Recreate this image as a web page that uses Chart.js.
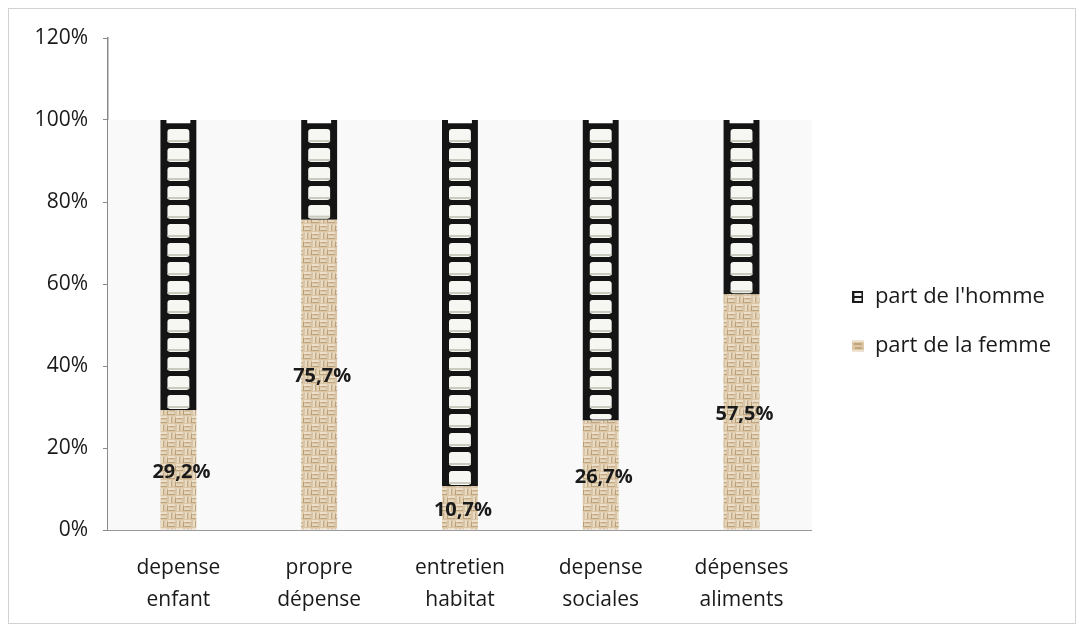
<!DOCTYPE html>
<html>
<head>
<meta charset="utf-8">
<script src="https://cdn.jsdelivr.net/npm/chart.js@4.4.1/dist/chart.umd.min.js"></script>
<style>
  html, body { margin: 0; padding: 0; background: #fff; }
  #wrap { position: relative; width: 1079px; height: 629px; }
  #frame { position: absolute; left: 8px; top: 8px; width: 1066px; height: 614px;
           border: 1px solid #d2d2d2; pointer-events: none; }
  canvas { position: absolute; left: 0; top: 0; }
</style>
</head>
<body>
<div id="wrap">
  <canvas id="chart" width="1079" height="629"></canvas>
  <div id="frame"></div>
</div>
<script>
// ----- data -----
const categories = [
  ["depense", "enfant"],
  ["propre", "dépense"],
  ["entretien", "habitat"],
  ["depense", "sociales"],
  ["dépenses", "aliments"]
];
const femmeShare = [29.2, 75.7, 10.7, 26.7, 57.5];
const hommeShare = [70.8, 24.3, 89.3, 73.3, 42.5];
const yTicks = [0, 20, 40, 60, 80, 100, 120];
const seriesNames = ["part de la femme", "part de l'homme"];

const FONT = "'Open Sans', 'DejaVu Sans', sans-serif";
const fmtPct = v => v.toFixed(1).replace(".", ",") + "%";

// ----- textures -----
function weaveTile() {
  const c = document.createElement("canvas");
  c.width = 16; c.height = 16;
  const g = c.getContext("2d");
  g.fillStyle = "#dac6a6"; g.fillRect(0, 0, 16, 16);
  // soft basket weave: short light/dark strands
  const strands = [
    ["#ebdfca", 0, 0, 7, 2], ["#c6ab84", 1, 2, 6, 1], ["#e6d8bf", 0, 4, 6, 2], ["#bfa37a", 0, 6, 7, 1],
    ["#ebdfca", 8, 8, 7, 2], ["#c6ab84", 9, 10, 6, 1], ["#e6d8bf", 8, 12, 6, 2], ["#bfa37a", 8, 14, 7, 1],
    ["#e8dbc3", 9, 0, 2, 7], ["#c4a982", 11, 1, 1, 6], ["#e3d3b8", 13, 0, 2, 6], ["#b99d74", 15, 2, 1, 5],
    ["#e8dbc3", 1, 8, 2, 7], ["#c4a982", 3, 9, 1, 6], ["#e3d3b8", 5, 8, 2, 6], ["#b99d74", 7, 10, 1, 5]
  ];
  strands.forEach(([col, x, y, w, h]) => { g.fillStyle = col; g.fillRect(x, y, w, h); });
  return c;
}

function hommeIcon() {
  const c = document.createElement("canvas");
  c.width = 11; c.height = 12;
  const g = c.getContext("2d");
  g.fillStyle = "#1a1a1a"; g.fillRect(0, 0, 11, 12);
  g.fillStyle = "#f2f2f2";
  g.fillRect(2, 2, 7, 3);
  g.fillRect(2, 7, 7, 3);
  return c;
}

function femmeIcon() {
  const c = document.createElement("canvas");
  c.width = 12; c.height = 12;
  const g = c.getContext("2d");
  g.fillStyle = "#dcc7a6"; g.fillRect(0, 0, 12, 12);
  g.fillStyle = "#c2a57b"; g.fillRect(2, 3, 8, 2); g.fillRect(3, 7, 7, 2);
  g.fillStyle = "#eee3d0"; g.fillRect(0, 0, 12, 2); g.fillRect(0, 10, 12, 2);
  return c;
}

const ctx = document.getElementById("chart").getContext("2d");
const weave = ctx.createPattern(weaveTile(), "repeat");

// grey plot band 0..100 %, like the original plot area
const plotBand = {
  id: "plotBand",
  beforeDatasetsDraw(chart) {
    const { ctx, chartArea, scales } = chart;
    const top = scales.y.getPixelForValue(100);
    const bottom = scales.y.getPixelForValue(0);
    ctx.save();
    ctx.fillStyle = "#f9f9f9";
    ctx.fillRect(chartArea.left, top, chartArea.right - chartArea.left, bottom - top);
    ctx.restore();
  }
};

// nudge the legend block to where the original has it
const legendNudge = {
  id: "legendNudge",
  afterLayout(chart) {
    const lg = chart.legend;
    lg.left += 13; lg.right += 13;
    lg.top -= 12; lg.bottom -= 12;
  }
};

// ladder look for the "homme" bars, painted over each bar element
const ladder = {
  id: "ladder",
  afterDatasetDraw(chart, args) {
    if (args.index !== 1) return;
    const c = chart.ctx;
    args.meta.data.forEach(el => {
      const { x, y, base, width } = el.getProps(["x", "y", "base", "width"], true);
      const left = x - width / 2;
      c.save();
      c.beginPath(); c.rect(left, y, width, base - y); c.clip();
      // notch on top
      c.fillStyle = "#ffffff";
      c.fillRect(left + 6, y, width - 12, 3);
      c.fillStyle = "#555";
      c.fillRect(left + 6, y + 3, width - 12, 1);
      for (let cy = y + 9; cy < base - 1; cy += 19) {
        const h = Math.min(14, base - 1 - cy);
        c.fillStyle = "#f6f6f2";
        c.beginPath();
        c.roundRect(left + 7, cy, width - 14, h, 3);
        c.fill();
        if (h > 10) {
          c.fillStyle = "#c9cbbf";
          c.fillRect(left + 7, cy + h - 3, width - 14, 2);
        }
      }
      c.restore();
    });
  }
};

// percentage labels in the middle of the "femme" segment
const valueLabels = {
  id: "valueLabels",
  afterDatasetsDraw(chart) {
    const c = chart.ctx;
    const meta = chart.getDatasetMeta(0);
    c.save();
    c.font = "bold 20px " + FONT;
    c.fillStyle = "#1a1a1a";
    c.textAlign = "center";
    c.textBaseline = "middle";
    meta.data.forEach((el, i) => {
      const { x, y, base } = el.getProps(["x", "y", "base"], true);
      c.fillText(fmtPct(femmeShare[i]), x + 3, (y + base) / 2 + 2);
    });
    c.restore();
  }
};

new Chart(ctx, {
  type: "bar",
  data: {
    labels: categories,
    datasets: [
      { label: seriesNames[0], data: femmeShare, backgroundColor: weave,
        barPercentage: 0.255, categoryPercentage: 1, pointStyle: femmeIcon() },
      { label: seriesNames[1], data: hommeShare, backgroundColor: "#141414",
        barPercentage: 0.255, categoryPercentage: 1, pointStyle: hommeIcon() }
    ]
  },
  options: {
    responsive: false,
    animation: false,
    layout: { padding: { top: 38, right: 31, bottom: 0, left: 0 } },
    plugins: {
      legend: {
        position: "right",
        reverse: true,
        labels: {
          usePointStyle: true,
          boxWidth: 12, boxHeight: 12,
          padding: 27,
          color: "#1a1a1a",
          font: { family: FONT, size: 22 }
        }
      },
      tooltip: { enabled: false }
    },
    scales: {
      x: {
        stacked: true,
        grid: { display: false, drawTicks: false },
        border: { display: true, color: "#9a9a9a", width: 2 },
        ticks: { color: "#1a1a1a", padding: 22, font: { family: FONT, size: 21, lineHeight: 1.52 }, maxRotation: 0 },
        afterFit(scale) { scale.height = 99; }
      },
      y: {
        stacked: true,
        min: 0, max: 120,
        afterBuildTicks(scale) { scale.ticks = yTicks.map(v => ({ value: v })); },
        grid: { drawOnChartArea: false, drawTicks: true, tickLength: 5, color: "#8a8a8a" },
        border: { display: true, color: "#8a8a8a", width: 1.5 },
        ticks: { color: "#1a1a1a", padding: 15, font: { family: FONT, size: 21 }, callback: v => v + "%" },
        afterFit(scale) { scale.width = 108; }
      }
    }
  },
  plugins: [plotBand, legendNudge, ladder, valueLabels]
});
</script>
</body>
</html>
